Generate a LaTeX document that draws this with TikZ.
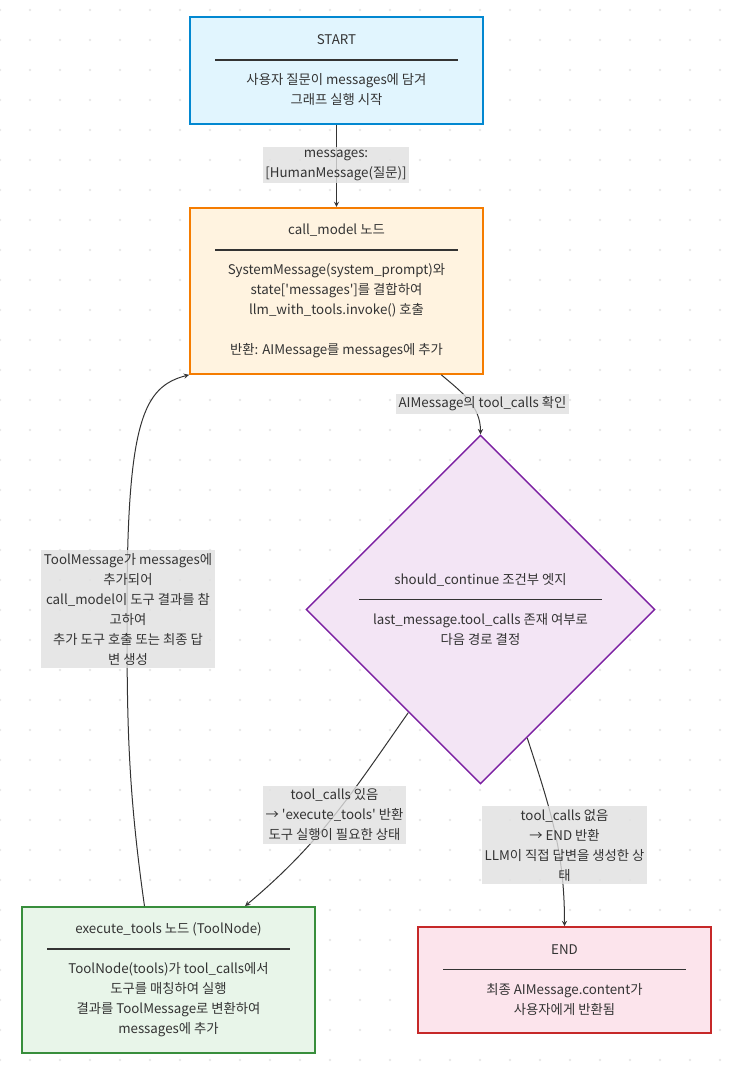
\documentclass[tikz,border=0pt]{standalone}
\usepackage{fontspec}
\setmainfont{Noto Sans CJK KR}
\usepackage{xcolor}
\usepackage{tikz}
\usetikzlibrary{shapes.geometric, arrows, positioning}

\definecolor{startfill}{HTML}{E1F5FE}
\definecolor{startline}{HTML}{0288D1}
\definecolor{callfill}{HTML}{FFF3E0}
\definecolor{callline}{HTML}{F57C00}
\definecolor{condfill}{HTML}{F3E5F5}
\definecolor{condline}{HTML}{7B1FA2}
\definecolor{execfill}{HTML}{E8F5E9}
\definecolor{execline}{HTML}{388E3C}
\definecolor{endfill}{HTML}{FCE4EC}
\definecolor{endline}{HTML}{C62828}
\definecolor{textgray}{HTML}{333333}
\definecolor{linegray}{HTML}{333333}
\definecolor{lblgray}{HTML}{E0E0E0}
\definecolor{dotgray}{HTML}{E8E8E8}

\newcommand{\splitbar}{\rule[0.3em]{182pt}{1.1pt}}

\begin{document}
\begin{tikzpicture}[x=0.75pt, y=-0.75pt,
    every node/.style={font=\fontsize{10pt}{15pt}\selectfont, text=textgray},
    box/.style={rectangle, draw, line width=1.4pt, minimum width=219.75pt, align=center, inner sep=2pt},
    decision/.style={diamond, draw=condline, fill=condfill, line width=1.1pt, aspect=1, minimum size=261.75pt, inner sep=0pt, align=center},
    lbl/.style={fill=lblgray, fill opacity=0.8, text opacity=1, align=center, inner sep=2pt},
    arrow/.style={->, >=stealth, draw=linegray, line width=0.75pt}
]
    \useasboundingbox (0,0) rectangle (731,1068);

    % Dotted background
    \foreach \x in {0,30,...,720}
        \foreach \y in {10,40,...,1060}
            \fill[dotgray] (\x,\y) circle (1.1pt);

    % Start
    \node[box, draw=startline, fill=startfill, minimum height=80.25pt] (start) at (336.5,70.5)
        {START\\\splitbar\\사용자 질문이 messages에 담겨\\그래프 실행 시작};

    % call_model node
    \node[box, draw=callline, fill=callfill, minimum height=124.5pt, below=61.5pt of start] (call)
        {call\_model 노드\\\splitbar\\SystemMessage(system\_prompt)와\\state[\textquotesingle messages\textquotesingle]를 결합하여\\llm\_with\_tools.invoke() 호출\\[15pt]반환: AIMessage를 messages에 추가};

    % Conditional edge
    \node[decision] (check) at (480.5,609.5)
        {should\_continue 조건부 엣지\\\splitbar\\last\_message.tool\_calls 존재 여부로\\다음 경로 결정};

    % execute_tools node
    \node[box, draw=execline, fill=execfill, minimum height=109.5pt] (exec) at (168.5,980)
        {execute\_tools 노드 (ToolNode)\\\splitbar\\ToolNode(tools)가 tool\_calls에서\\도구를 매칭하여 실행\\결과를 ToolMessage로 변환하여\\messages에 추가};

    % End
    \node[box, draw=endline, fill=endfill, minimum height=79.5pt] (finish) at (564.5,980)
        {END\\\splitbar\\최종 AIMessage.content가\\사용자에게 반환됨};

    % Connect components
    \coordinate (loopback) at (127,609);
    \draw[arrow] (start) -- (call);
    \draw[arrow] ([xshift=-32pt]call.south east) to[out=-40,in=90] (check.north);
    \draw[arrow] (check.-125) to[out=-125,in=40] (exec.44);
    \draw[arrow] (check.-70) to[out=-72,in=90] (finish.north);
    \draw[arrow] (exec.108) .. controls +(-17,-120) and +(0,110) .. (loopback)
        .. controls +(0,-190) and +(-45,12) .. (call.south west);

    % Edge labels
    \node[lbl] (hmsg) at (336,165) {messages:\\{[}HumanMessage(질문)]};
    \node[lbl] (aicheck) at (482.5,404) {AIMessage의 tool\_calls 확인};
    \node[lbl] (toolmsg) at (128,609) {ToolMessage가 messages에\\추가되어\\call\_model이 도구 결과를 참\\고하여\\추가 도구 호출 또는 최종 답\\변 생성};
    \node[lbl] (yescalls) at (334.5,815) {tool\_calls 있음\\→ \textquotesingle execute\_tools\textquotesingle{} 반환\\도구 실행이 필요한 상태};
    \node[lbl] (nocalls) at (564.5,845) {tool\_calls 없음\\→ END 반환\\LLM이 직접 답변을 생성한 상\\태};

\end{tikzpicture}
\end{document}
